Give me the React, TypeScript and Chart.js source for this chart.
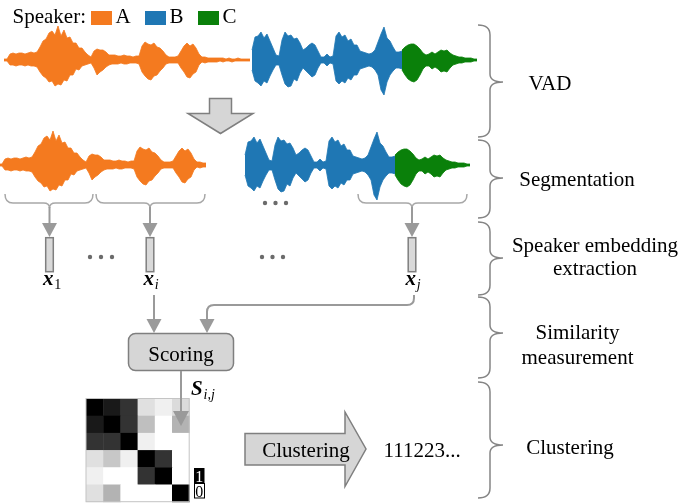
import React, { useEffect, useRef } from 'react';
import { Chart, registerables } from 'chart.js';

Chart.register(...registerables);

// ---- data ----
const speakers = ['A', 'B', 'C'];
const speakerColors = ['#f47a1f', '#1f77b4', '#0a800a'];

// waveform envelopes: pixels above / below the centre line, one sample every 3 px
const speakerAUp = [
  1, 1,
  6, 7, 6, 7, 7, 6, 7, 8, 7, 8,
  13, 19, 21, 27, 29, 25, 34, 24, 30, 22, 23, 17, 17, 12, 12, 8, 5,
  3,
  9, 11, 10, 10, 8, 5,
  5, 5, 4, 4, 5, 4, 4, 3, 4, 4,
  14, 18, 16, 15, 17, 13, 12, 9, 5,
  3, 3, 3, 4,
  9, 14, 17, 14, 16, 12, 6,
  3, 3, 2, 2, 2, 2, 2, 2, 1, 2, 1, 1, 2, 1, 1, 1, 1,
];
const speakerADown = [
  1, 1,
  5, 5, 6, 5, 5, 6, 5, 6, 6, 7,
  12, 16, 18, 22, 21, 26, 24, 25, 20, 21, 15, 15, 9, 10, 6, 5, 4,
  3,
  8, 15, 12, 10, 7, 5,
  4, 4, 4, 3, 4, 4, 3, 3, 3, 4,
  12, 16, 19, 20, 16, 15, 11, 8, 4,
  3, 3, 3, 3,
  8, 12, 17, 18, 14, 12, 5,
  2, 3, 2, 2, 2, 2, 1, 2, 1, 1, 2, 1, 1, 1, 1, 1, 1,
];
const speakerBUp = [
  10, 23, 24, 28, 22, 26, 19, 12,
  5, 4,
  20, 28, 24, 25, 21, 22, 17, 10,
  12, 15, 17, 15, 9,
  3, 3, 6, 3, 4,
  24, 28, 23, 25, 19, 21, 15, 15, 9, 8,
  7, 6, 7,
  10, 18, 26, 33, 22, 19, 13,
  8, 8, 9,
];
const speakerBDown = [
  10, 21, 23, 26, 21, 23, 16, 10,
  5, 5,
  15, 24, 27, 26, 19, 21, 13, 8,
  11, 14, 17, 15, 8,
  3, 3, 6, 3, 4,
  21, 24, 21, 23, 18, 20, 15, 15, 9, 8,
  7, 6, 7,
  10, 15, 30, 35, 22, 15, 11,
  8, 8, 9,
];
const speakerCUp = [
  10, 13, 15, 16, 16, 14, 11, 7,
  5, 6, 8,
  6, 8, 10, 9, 10, 7, 5,
  4, 3, 3, 2, 2, 2, 1, 1,
];
const speakerCDown = [
  10, 15, 19, 21, 22, 20, 15, 9,
  6, 6, 9,
  7, 9, 12, 11, 12, 8, 5,
  4, 3, 3, 2, 2, 2, 1, 1,
];
// samples of speaker A kept after VAD (the trailing silence is dropped)
const vadKeepA = 70;

const stageNames = [['VAD'], ['Segmentation'], ['Speaker embedding', 'extraction'], ['Similarity', 'measurement'], ['Clustering']];
const embeddingSubscripts = ['1', 'i', 'j'];
const similarity = [
  [1.0, 0.9, 0.8, 0.12, 0.06, 0.14],
  [0.9, 1.0, 0.8, 0.25, 0.0, 0.3],
  [0.8, 0.8, 1.0, 0.06, 0.0, 0.0],
  [0.12, 0.22, 0.06, 1.0, 0.8, 0.0],
  [0.06, 0.0, 0.0, 0.8, 1.0, 0.0],
  [0.12, 0.3, 0.0, 0.0, 0.0, 1.0],
];
const clusterOutput = '111223...';

// ---- layout ----
const W = 680;
const H = 503;
const STEP = 3;
const SERIF = '"Liberation Serif"';
const GRAY_LINE = '#7f7f7f';
const GRAY_FILL = '#d6d6d6';
const ARROW = '#9a9a9a';

const envelope = (amp: number[], sign: number, x0: number, cy: number, n: number) =>
  amp.slice(0, n).map((a, i) => ({ x: x0 + i * STEP, y: cy + sign * a }));

const diagramPlugin = {
  id: 'diagram',
  afterDatasetsDraw(chart: any) {
    const ctx: CanvasRenderingContext2D = chart.ctx;
    const sx = chart.scales.x;
    const sy = chart.scales.y;
    const X = (v: number) => sx.getPixelForValue(v);
    const Y = (v: number) => sy.getPixelForValue(v);
    ctx.save();

    const text = (s: string, x: number, y: number, font: string, align: CanvasTextAlign = 'left', color = '#000') => {
      ctx.font = font;
      ctx.fillStyle = color;
      ctx.textAlign = align;
      ctx.textBaseline = 'alphabetic';
      ctx.fillText(s, X(x), Y(y));
    };
    const head = (x: number, tip: number, w = 15, h = 14) => {
      ctx.fillStyle = ARROW;
      ctx.beginPath();
      ctx.moveTo(X(x - w / 2), Y(tip - h));
      ctx.lineTo(X(x + w / 2), Y(tip - h));
      ctx.lineTo(X(x), Y(tip));
      ctx.closePath();
      ctx.fill();
    };
    const vline = (x: number, y1: number, y2: number) => {
      ctx.strokeStyle = ARROW;
      ctx.lineWidth = 2;
      ctx.beginPath();
      ctx.moveTo(X(x), Y(y1));
      ctx.lineTo(X(x), Y(y2));
      ctx.stroke();
    };
    const poly = (pts: number[][]) => {
      ctx.beginPath();
      pts.forEach(([px, py], i) => (i ? ctx.lineTo(X(px), Y(py)) : ctx.moveTo(X(px), Y(py))));
      ctx.closePath();
      ctx.fillStyle = GRAY_FILL;
      ctx.fill();
      ctx.strokeStyle = GRAY_LINE;
      ctx.lineWidth = 1.5;
      ctx.stroke();
    };

    // legend
    const f20 = `21px ${SERIF}`;
    text('Speaker:', 12.5, 22.7, f20);
    const legendX = [91, 145, 198];
    speakers.forEach((s, i) => {
      ctx.fillStyle = speakerColors[i];
      ctx.fillRect(X(legendX[i]), Y(11), 21, 14);
      text(s, legendX[i] + 24.5, 23, f20);
    });

    // VAD arrow
    poly([[209.5, 98.5], [231.5, 98.5], [231.5, 113.5], [253, 113.5], [220.5, 133.5], [188, 113.5], [209.5, 113.5]]);

    // right-hand braces and stage names
    const braces = [[25, 82, 137], [140, 178, 218], [222, 258, 295], [297, 333, 378], [382, 445, 498]];
    const nameX = [550, 577, 595, 577.5, 570];
    const nameY = [[90], [186], [251.5, 275], [338.5, 363.5], [454]];
    ctx.strokeStyle = '#858585';
    ctx.lineWidth = 1.5;
    braces.forEach(([y1, ym, y2]) => {
      ctx.beginPath();
      ctx.moveTo(X(478), Y(y1));
      ctx.quadraticCurveTo(X(490), Y(y1), X(490), Y(y1 + 10));
      ctx.lineTo(X(490), Y(ym - 8));
      ctx.quadraticCurveTo(X(490), Y(ym), X(503), Y(ym));
      ctx.quadraticCurveTo(X(490), Y(ym), X(490), Y(ym + 8));
      ctx.lineTo(X(490), Y(y2 - 10));
      ctx.quadraticCurveTo(X(490), Y(y2), X(478), Y(y2));
      ctx.stroke();
    });
    stageNames.forEach((lines, i) => lines.forEach((l, j) => text(l, nameX[i], nameY[i][j], f20, 'center')));

    // segment braces and embedding arrows
    const segs = [[5, 93, 49.5], [96, 205, 150], [358, 467, 412]];
    segs.forEach(([x1, x2, xm]) => {
      ctx.strokeStyle = '#a8a8a8';
      ctx.lineWidth = 1.5;
      ctx.beginPath();
      ctx.moveTo(X(x1), Y(194));
      ctx.quadraticCurveTo(X(x1), Y(203), X(x1 + 8), Y(203));
      ctx.lineTo(X(xm - 6), Y(203));
      ctx.quadraticCurveTo(X(xm), Y(203), X(xm), Y(208));
      ctx.moveTo(X(x2), Y(194));
      ctx.quadraticCurveTo(X(x2), Y(203), X(x2 - 8), Y(203));
      ctx.lineTo(X(xm + 6), Y(203));
      ctx.quadraticCurveTo(X(xm), Y(203), X(xm), Y(208));
      ctx.stroke();
      vline(xm, 207, 225);
      head(xm, 237);
    });

    // embedding vectors
    segs.forEach(([, , xm], i) => {
      ctx.fillStyle = '#d9d9d9';
      ctx.fillRect(X(xm - 3.8), Y(237.7), 7.6, 34);
      ctx.strokeStyle = GRAY_LINE;
      ctx.lineWidth = 1.5;
      ctx.strokeRect(X(xm - 3.8), Y(237.7), 7.6, 34);
      text('x', xm - 6.5, 284.5, `bold italic 21px ${SERIF}`);
      text(embeddingSubscripts[i], xm + 4.8, 288.5, i ? `italic 14px ${SERIF}` : `14px ${SERIF}`);
    });

    // ellipses
    ctx.fillStyle = '#6b6b6b';
    [[90, 257], [101, 257], [112, 257], [262, 257], [272.5, 257], [283, 257], [265, 203], [275.5, 203], [286, 203]].forEach(([dx, dy]) => {
      ctx.beginPath();
      ctx.arc(X(dx), Y(dy), 2.2, 0, Math.PI * 2);
      ctx.fill();
    });

    // arrows into scoring
    vline(154, 295, 320);
    head(154, 333);
    ctx.strokeStyle = ARROW;
    ctx.lineWidth = 2;
    ctx.beginPath();
    ctx.moveTo(X(414), Y(295));
    ctx.lineTo(X(414), Y(298));
    ctx.quadraticCurveTo(X(414), Y(305), X(407), Y(305));
    ctx.lineTo(X(214), Y(305));
    ctx.quadraticCurveTo(X(207), Y(305), X(207), Y(312));
    ctx.lineTo(X(207), Y(320));
    ctx.stroke();
    head(207, 333);

    // scoring box
    ctx.beginPath();
    ctx.roundRect(X(128.5), Y(333.5), 105, 37, 7);
    ctx.fillStyle = GRAY_FILL;
    ctx.fill();
    ctx.strokeStyle = GRAY_LINE;
    ctx.lineWidth = 1.5;
    ctx.stroke();
    text('Scoring', 181, 360.5, f20, 'center');

    // similarity matrix
    const mx = 86;
    const my = 398.5;
    const cell = 17.2;
    similarity.forEach((row, r) =>
      row.forEach((v, c) => {
        const g = Math.round(255 * (1 - v));
        ctx.fillStyle = `rgb(${g},${g},${g})`;
        ctx.fillRect(X(mx + c * cell), Y(my + r * cell), cell + 0.5, cell + 0.5);
      })
    );
    ctx.strokeStyle = '#c4c4c4';
    ctx.lineWidth = 1;
    ctx.strokeRect(X(mx), Y(my), cell * 6, cell * 6);

    // colour bar
    ctx.fillStyle = '#000';
    ctx.fillRect(X(194), Y(468), 10.5, 15);
    ctx.fillStyle = '#fff';
    ctx.fillRect(X(194), Y(483), 10.5, 15);
    ctx.strokeStyle = '#000';
    ctx.lineWidth = 1;
    ctx.strokeRect(X(194.5), Y(483.5), 10, 14.5);
    text('1', 199.3, 481.5, `16px ${SERIF}`, 'center', '#fff');
    text('0', 199.3, 496.5, `16px ${SERIF}`, 'center', '#000');

    // scoring -> matrix arrow
    vline(181, 371, 413);
    head(181, 426, 16, 15);
    text('S', 191, 395, `bold italic 21px ${SERIF}`);
    text('i,j', 203.5, 399, `italic 14px ${SERIF}`);

    // clustering arrow
    poly([[245, 433.5], [345, 433.5], [345, 412], [366, 449], [345, 486.5], [345, 465], [245, 465]]);
    text('Clustering', 306, 456.7, f20, 'center');
    text(clusterOutput, 383.5, 456.7, f20);

    ctx.restore();
  },
};

export default function App() {
  const canvasRef = useRef<HTMLCanvasElement>(null);

  useEffect(() => {
    if (!canvasRef.current) return;
    const rows = [
      { cy: 60, x0: [4, 252, 402], keepA: speakerAUp.length },
      { cy: 165, x0: [-1, 245, 395], keepA: vadKeepA },
    ];
    const ups = [speakerAUp, speakerBUp, speakerCUp];
    const downs = [speakerADown, speakerBDown, speakerCDown];
    const datasets: any[] = [];
    rows.forEach((row, r) =>
      speakers.forEach((s, i) => {
        const n = i === 0 ? row.keepA : ups[i].length;
        const lowerIndex = datasets.length;
        datasets.push({
          label: `${s}-${r}-low`,
          data: envelope(downs[i], 1, row.x0[i], row.cy, n),
          borderColor: speakerColors[i],
          borderWidth: 0.8,
          pointRadius: 0,
          fill: false,
        });
        datasets.push({
          label: `${s}-${r}-up`,
          data: envelope(ups[i], -1, row.x0[i], row.cy, n),
          borderColor: speakerColors[i],
          backgroundColor: speakerColors[i],
          borderWidth: 0.8,
          pointRadius: 0,
          fill: lowerIndex,
        });
      })
    );

    const chart = new Chart(canvasRef.current, {
      type: 'line',
      data: { datasets },
      options: {
        animation: false,
        responsive: false,
        events: [],
        layout: { padding: 0 },
        elements: { line: { tension: 0 } },
        plugins: { legend: { display: false }, tooltip: { enabled: false } },
        scales: {
          x: { type: 'linear', min: 0, max: W, offset: false, display: false },
          y: { type: 'linear', min: 0, max: H, reverse: true, display: false },
        },
      },
      plugins: [diagramPlugin],
    });
    return () => {
      chart.destroy();
    };
  }, []);

  return (
    <div style={{ position: 'absolute', left: 0, top: 0, width: W, height: H, background: '#fff' }}>
      <canvas ref={canvasRef} width={W} height={H} style={{ display: 'block' }} />
    </div>
  );
}
